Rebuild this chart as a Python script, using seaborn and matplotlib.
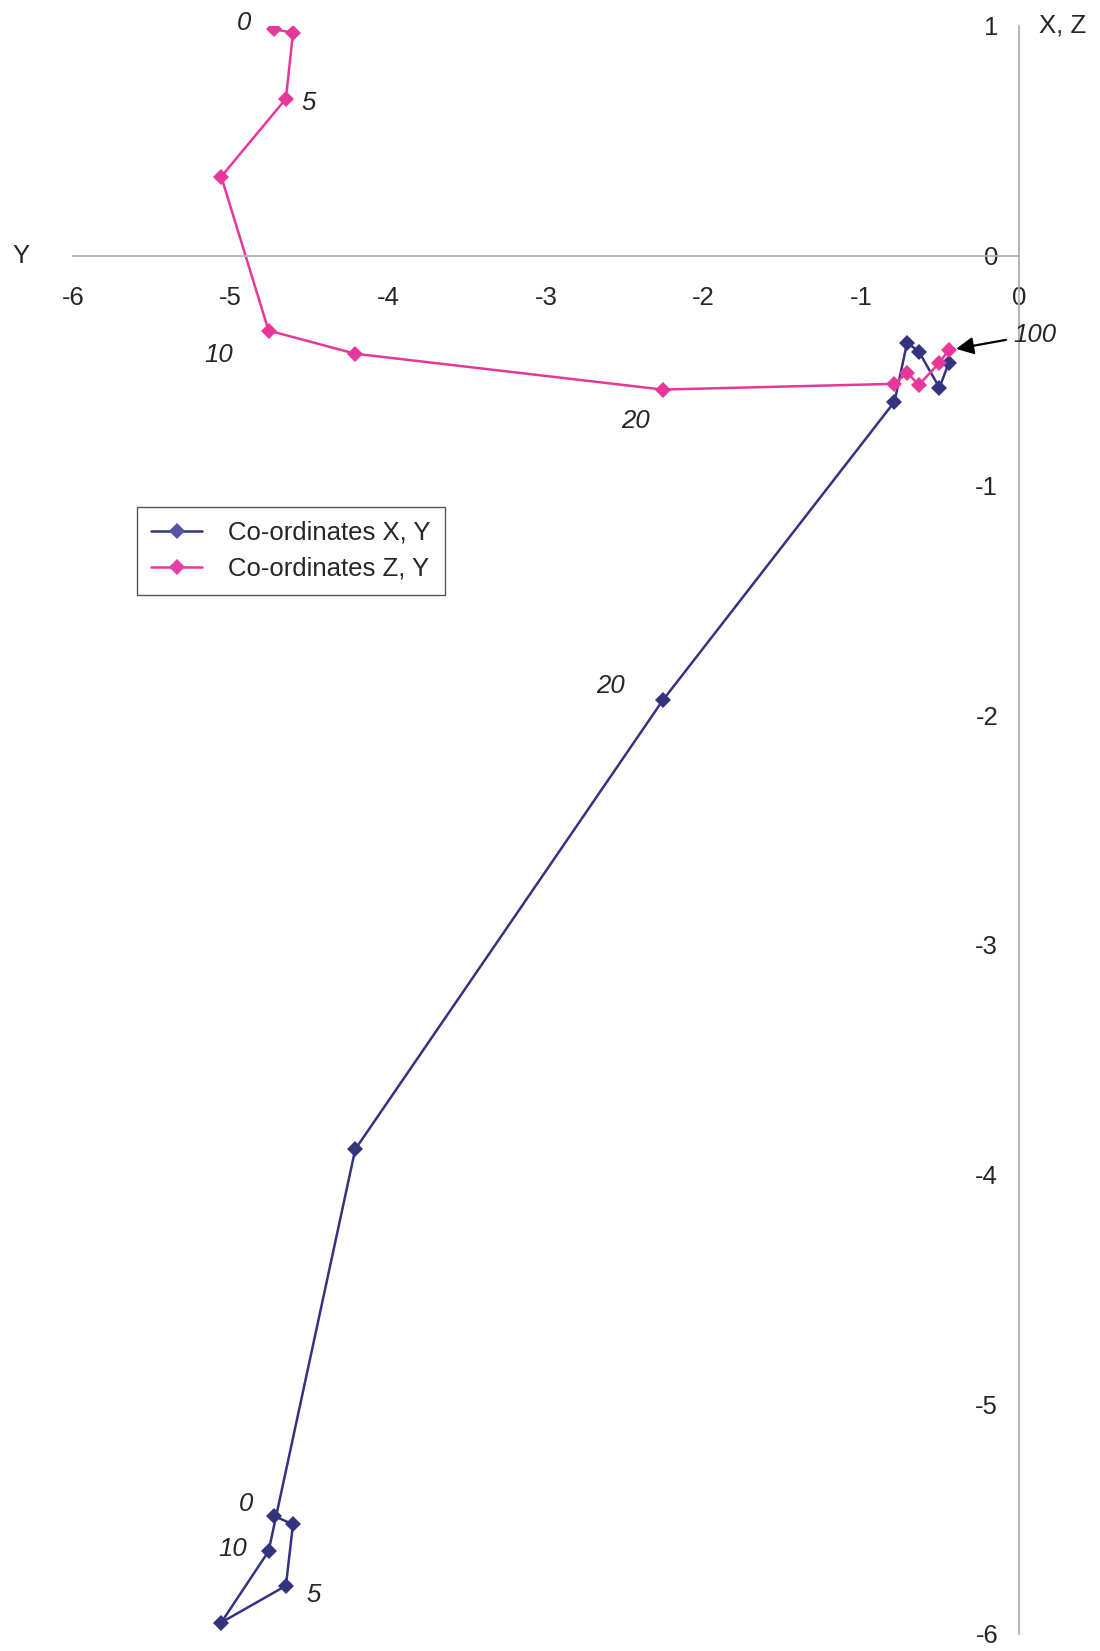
import pandas as pd
import matplotlib
matplotlib.use("Agg")
import matplotlib.pyplot as plt
import seaborn as sns

# shared horizontal coordinate (Y) for both series
y_coord = [-4.725, -4.605, -4.65, -5.06, -4.76, -4.21, -2.26, -0.79, -0.71, -0.635, -0.505, -0.445]
x_coord = [-5.486, -5.523, -5.79, -5.95, -5.64, -3.89, -1.936, -0.636, -0.379, -0.418, -0.575, -0.466]
z_coord = [0.986, 0.97, 0.683, 0.344, -0.326, -0.427, -0.583, -0.558, -0.51, -0.562, -0.466, -0.409]

series_names = ["Co-ordinates X, Y", "Co-ordinates Z, Y"]
point_labels = {0: "0", 2: "5", 4: "10", 6: "20"}

df = pd.concat([
    pd.DataFrame({"Y": y_coord, "val": x_coord, "series": series_names[0]}),
    pd.DataFrame({"Y": y_coord, "val": z_coord, "series": series_names[1]}),
])

sns.set_theme(style="white")
plt.rcParams["font.family"] = ["Liberation Sans", "DejaVu Sans"]
plt.rcParams["axes.unicode_minus"] = False

fig = plt.figure(figsize=(11, 16.51), dpi=100)
ax = fig.add_axes([0.0664, 0.0103, 0.86, 0.974])

palette = {series_names[0]: "#34337f", series_names[1]: "#e8379b"}
marker_colors = {series_names[0]: "#5552a8", series_names[1]: "#e43fa6"}
sns.lineplot(data=df, x="Y", y="val", hue="series", style="series", sort=False,
             markers=["D", "D"], dashes=False, palette=palette, markersize=8.5,
             markeredgewidth=0, linewidth=1.8, ax=ax, legend=True)
for line in ax.lines:
    lab = line.get_label()
    if lab in marker_colors:
        line.set_markerfacecolor(marker_colors[lab])

ax.set_xlim(-6, 0)
ax.set_ylim(-6, 1)
ax.set_xlabel("")
ax.set_ylabel("")

for side in ["top", "right"]:
    ax.spines[side].set_visible(False)
ax.spines["left"].set_position(("data", 0))
ax.spines["bottom"].set_position(("data", 0))
for side in ["left", "bottom"]:
    ax.spines[side].set_color("#b0b0b0")
    ax.spines[side].set_linewidth(1.3)

fs = 18.5
ax.set_xticks(range(-6, 1))
ax.set_yticks(range(-6, 2))
ax.tick_params(axis="x", direction="out", length=5, width=1, color="#b0b0b0", pad=17, labelsize=fs)
ax.tick_params(axis="y", direction="out", length=5, width=1, color="#b0b0b0", pad=10, labelsize=fs)
ax.grid(False)

# point index labels
offsets_z = {0: (-30, 6), 2: (23, -4), 4: (-50, -24), 6: (-27, -31)}
offsets_x = {0: (-28, 12), 2: (28, -9), 4: (-36, 2), 6: (-52, 14)}
for i, (dx, dy) in offsets_z.items():
    ax.annotate(point_labels[i], (y_coord[i], z_coord[i]), xytext=(dx, dy), textcoords="offset pixels",
                ha="center", va="center", fontsize=fs, style="italic")
for i, (dx, dy) in offsets_x.items():
    ax.annotate(point_labels[i], (y_coord[i], x_coord[i]), xytext=(dx, dy), textcoords="offset pixels",
                ha="center", va="center", fontsize=fs, style="italic")

ax.annotate("100", (y_coord[-1] + 0.02, z_coord[-1]), xytext=(83, 15), textcoords="offset pixels",
            ha="center", va="center", fontsize=fs, style="italic", annotation_clip=False,
            arrowprops=dict(arrowstyle="-|>", color="black", lw=1.6, mutation_scale=26,
                            shrinkA=3, shrinkB=3))

fig.text(21 / 1100, 1 - 256 / 1651, "Y", ha="center", va="center", fontsize=fs)
fig.text(1063 / 1100, 1 - 26 / 1651, "X, Z", ha="center", va="center", fontsize=fs)

leg = ax.legend(loc="upper left", bbox_to_anchor=(0.1245, 0.693), bbox_transform=fig.transFigure,
                fontsize=fs, frameon=True, fancybox=False, edgecolor="#555555", framealpha=1,
                handlelength=2.0, handletextpad=1.0, borderpad=0.55, labelspacing=0.45,
                borderaxespad=0, numpoints=1, title=None)
leg.get_frame().set_linewidth(1.0)

fig.savefig("out.png", dpi=100)
